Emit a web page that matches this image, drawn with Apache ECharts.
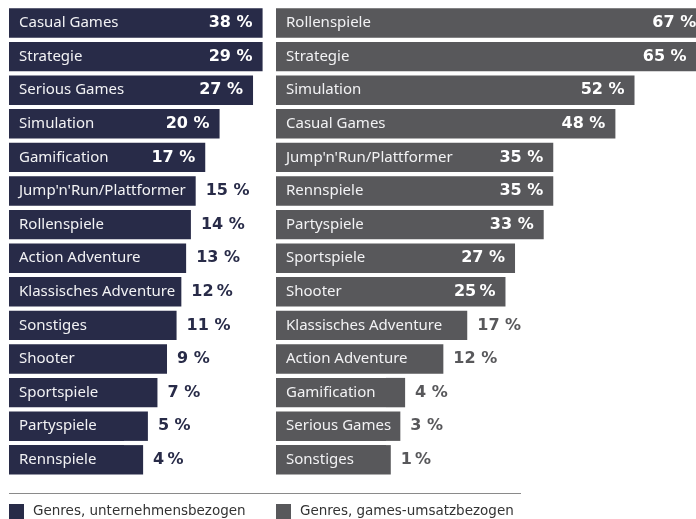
<!DOCTYPE html>
<html>
<head>
<meta charset="utf-8">
<script src="https://cdn.jsdelivr.net/npm/echarts@6/dist/echarts.min.js"></script>
<style>
  html, body { margin: 0; padding: 0; background: #ffffff; overflow: hidden; }
  #chart { width: 712px; height: 519px; }
</style>
</head>
<body>
<div id="chart"></div>
<script>
// Genres by share of companies (left) and by share of games revenue (right)
const leftCategories = ['Casual Games', 'Strategie', 'Serious Games', 'Simulation', 'Gamification',
  "Jump'n'Run/Plattformer", 'Rollenspiele', 'Action Adventure', 'Klassisches Adventure',
  'Sonstiges', 'Shooter', 'Sportspiele', 'Partyspiele', 'Rennspiele'];
const leftValues = [38, 29, 27, 20, 17, 15, 14, 13, 12, 11, 9, 7, 5, 4];

const rightCategories = ['Rollenspiele', 'Strategie', 'Simulation', 'Casual Games',
  "Jump'n'Run/Plattformer", 'Rennspiele', 'Partyspiele', 'Sportspiele', 'Shooter',
  'Klassisches Adventure', 'Action Adventure', 'Gamification', 'Serious Games', 'Sonstiges'];
const rightValues = [67, 65, 52, 48, 35, 35, 33, 27, 25, 17, 12, 4, 3, 1];

const leftSeriesName = 'Genres, unternehmensbezogen';
const rightSeriesName = 'Genres, games-umsatzbezogen';

// labels printed with a narrow gap before the percent sign
const leftTight = ['Klassisches Adventure', 'Rennspiele'];
const rightTight = ['Shooter', 'Sonstiges'];

// ---- styling / layout ----
const NAVY = '#282b48';
const GREY = '#58585b';
const NAME_FONT = '"Noto Sans", "Open Sans", sans-serif';
const VALUE_FONT = '"DejaVu Sans", Verdana, sans-serif';
const PX_PER_PCT = 4.779;
const TOP = 6.2, ROWS_H = 470.4, BAR_H = 29.4;

// each bar starts with a fixed-width name panel (in px) before its value part
const panels = [
  { left: 9,   padPx: 115, max: 29, insideMin: 17, color: NAVY, cats: leftCategories,  vals: leftValues,  name: leftSeriesName,  tight: leftTight },
  { left: 276, padPx: 110, max: 67, insideMin: 25, color: GREY, cats: rightCategories, vals: rightValues, name: rightSeriesName, tight: rightTight }
];

const grids = [], xAxes = [], yAxes = [], series = [];
panels.forEach((p, i) => {
  const pad = p.padPx / PX_PER_PCT;
  const barStyle = { color: p.color, borderWidth: 0 };
  grids.push({ left: p.left, top: TOP, width: p.padPx + p.max * PX_PER_PCT, height: ROWS_H, containLabel: false });
  xAxes.push({ type: 'value', gridIndex: i, min: -pad, max: p.max, show: false });
  yAxes.push({
    type: 'category', gridIndex: i, data: p.cats, inverse: true, z: 10,
    axisLine: { show: false }, axisTick: { show: false },
    axisLabel: { inside: true, margin: 10, color: '#f2f2f4', fontFamily: NAME_FONT, fontSize: 15 }
  });
  series.push({
    type: 'bar', name: p.name + ' ', xAxisIndex: i, yAxisIndex: i, stack: 's' + i,
    barWidth: BAR_H, silent: true, itemStyle: barStyle,
    data: p.cats.map(() => -pad)
  });
  series.push({
    type: 'bar', name: p.name, xAxisIndex: i, yAxisIndex: i, stack: 's' + i,
    barWidth: BAR_H, itemStyle: barStyle,
    data: p.vals.map((v, k) => {
      const inside = v >= p.insideMin;
      return {
        value: v,
        label: {
          show: true,
          position: inside ? 'insideRight' : 'right',
          distance: 10,
          color: inside ? '#ffffff' : p.color,
          fontFamily: VALUE_FONT, fontWeight: 'bold', fontSize: 16,
          formatter: () => v + (p.tight.includes(p.cats[k]) ? '\u2009' : ' ') + '%'
        }
      };
    })
  });
});

const legendText = { color: '#333333', fontFamily: VALUE_FONT, fontSize: 13.5, padding: [0, 0, 0, 4] };

const chart = echarts.init(document.getElementById('chart'), null, { renderer: 'canvas' });
chart.setOption({
  animation: false,
  backgroundColor: '#ffffff',
  grid: grids,
  xAxis: xAxes,
  yAxis: yAxes,
  legend: [
    { data: [leftSeriesName],  left: 9,   top: 504, icon: 'rect', itemWidth: 15, itemHeight: 15, padding: 0, selectedMode: false, textStyle: legendText },
    { data: [rightSeriesName], left: 276, top: 504, icon: 'rect', itemWidth: 15, itemHeight: 15, padding: 0, selectedMode: false, textStyle: legendText }
  ],
  graphic: [{
    type: 'line', shape: { x1: 9, y1: 493.5, x2: 521, y2: 493.5 },
    style: { stroke: '#8a8a8a', lineWidth: 1 }, silent: true
  }],
  series: series
});
</script>
</body>
</html>
